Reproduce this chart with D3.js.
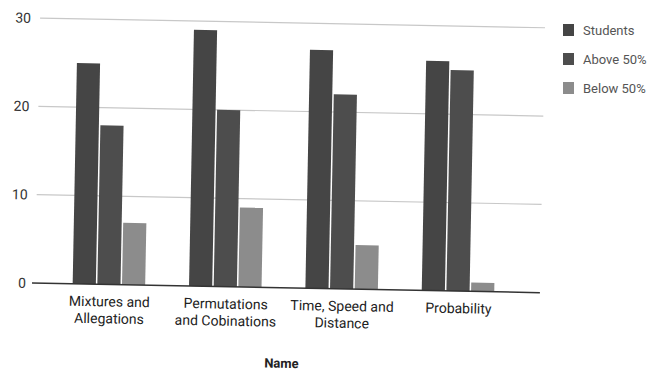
<!DOCTYPE html>
<html>
<head>
<meta charset="utf-8">
<script src="https://cdn.jsdelivr.net/npm/d3@7"></script>
<style>
  html, body { margin: 0; padding: 0; background: #ffffff; }
  svg { display: block; font-family: Roboto, "Liberation Sans", Arial, sans-serif; }
</style>
</head>
<body>
<svg id="chart" width="667" height="372"></svg>
<script>
const categories = ["Mixtures and\nAllegations", "Permutations\nand Cobinations", "Time, Speed and\nDistance", "Probability"];
const seriesNames = ["Students", "Above 50%", "Below 50%"];
const students = [25, 29, 27, 26];
const above50 = [18, 20, 22, 25];
const below50 = [7, 9, 5, 1];
const yTicks = [0, 10, 20, 30];
const axisTitle = "Name";

const seriesValues = [students, above50, below50];
const colors = ["#454545", "#4d4d4d", "#8c8c8c"];

const svg = d3.select("#chart");
const g = svg.append("g").attr("transform", "rotate(1.1, 35, 283)");

const y = d3.scaleLinear().domain([0, 30]).range([283, 18]);
const x0 = d3.scaleBand().domain(categories).range([51.5, 517]).paddingInner(0.364).paddingOuter(0.182);
const x1 = d3.scaleBand().domain(seriesNames).range([0, x0.bandwidth()]);

// gridlines
g.append("g").selectAll("line").data(yTicks.filter(d => d > 0)).join("line")
  .attr("x1", 35).attr("x2", 540)
  .attr("y1", d => y(d)).attr("y2", d => y(d))
  .attr("stroke", "#c8c8c8").attr("stroke-width", 1.2);

// y labels via axis
const yAxis = g.append("g").attr("transform", "translate(34,0)")
  .call(d3.axisLeft(y).tickValues(yTicks).tickSize(0).tickPadding(8));
yAxis.select(".domain").remove();
yAxis.selectAll("text").attr("font-size", 14).attr("fill", "#333")
  .attr("font-family", "Roboto, sans-serif");

// bars
const rows = categories.map((c, i) => ({ cat: c, vals: seriesNames.map((s, j) => ({ s, v: seriesValues[j][i], j })) }));
g.append("g").selectAll("g").data(rows).join("g")
  .attr("transform", d => `translate(${x0(d.cat)},0)`)
  .selectAll("rect").data(d => d.vals).join("rect")
  .attr("x", d => x1(d.s))
  .attr("width", x1.bandwidth() - 1.5)
  .attr("y", d => y(d.v))
  .attr("height", d => y(0) - y(d.v))
  .attr("fill", d => colors[d.j]);

// baseline
g.append("line").attr("x1", 32).attr("x2", 540).attr("y1", y(0)).attr("y2", y(0))
  .attr("stroke", "#333").attr("stroke-width", 1.5);

// x labels
const xl = g.append("g").selectAll("text").data(categories).join("text")
  .attr("x", d => x0(d) + x0.bandwidth() / 2)
  .attr("y", 305)
  .attr("text-anchor", "middle")
  .attr("font-size", 14)
  .attr("fill", "#222");
xl.selectAll("tspan").data(d => d.split("\n")).join("tspan")
  .attr("x", function() { return d3.select(this.parentNode).attr("x"); })
  .attr("dy", (d, i) => i === 0 ? 0 : 17)
  .text(d => d);

// axis title
g.append("text").attr("x", 283).attr("y", 363).attr("text-anchor", "middle")
  .attr("font-size", 13).attr("font-weight", "bold").attr("fill", "#222").text(axisTitle);

// legend
const lg = svg.append("g").selectAll("g").data(seriesNames).join("g")
  .attr("transform", (d, i) => `translate(563,${24 + i * 29})`);
lg.append("rect").attr("width", 11).attr("height", 12).attr("fill", (d, i) => colors[i]);
lg.append("text").attr("x", 20).attr("y", 10.5).attr("font-size", 13).attr("fill", "#555").text(d => d);
</script>
</body>
</html>
